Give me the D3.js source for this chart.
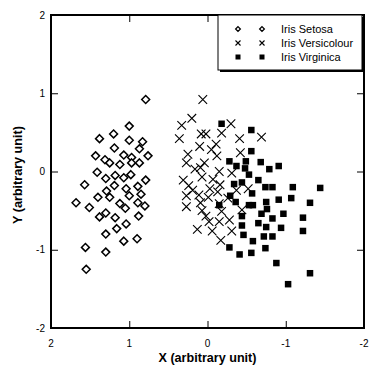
<!DOCTYPE html>
<html>
<head>
<meta charset="utf-8">
<script src="https://cdn.jsdelivr.net/npm/d3@7"></script>
<style>
  body { margin: 0; background: #fff; }
  svg { display: block; font-family: "Liberation Sans", Arial, sans-serif; }
</style>
</head>
<body>
<div id="chart-container"></div>
<script>
// Data (x, y in arbitrary units)
const setosa = [
  [0.79, 0.92], [1.00, 0.58], [1.20, 0.48], [1.38, 0.42], [1.00, 0.40],
  [0.83, 0.38], [1.19, 0.30], [0.87, 0.29], [1.43, 0.20], [1.31, 0.15],
  [1.25, 0.11], [1.07, 0.21], [0.97, 0.18], [0.76, 0.20], [1.12, 0.09],
  [0.97, 0.11], [0.87, 0.11], [1.41, -0.01], [1.30, -0.09], [1.18, -0.05],
  [0.98, -0.04], [1.57, -0.17], [1.07, -0.08], [0.79, -0.11], [1.19, -0.18],
  [0.89, -0.19], [1.29, -0.25], [1.04, -0.22], [1.25, -0.33], [1.40, -0.33],
  [1.00, -0.31], [0.85, -0.29], [1.68, -0.40], [1.51, -0.46], [1.12, -0.41],
  [0.89, -0.40], [0.80, -0.44], [1.05, -0.47], [1.30, -0.53], [1.38, -0.58],
  [1.18, -0.59], [0.88, -0.57], [1.04, -0.67], [1.16, -0.73], [1.30, -0.80],
  [1.07, -0.89], [0.90, -0.86], [1.56, -0.97], [1.30, -1.03], [1.55, -1.25]
];

const versicolour = [
  [0.06, 0.92], [0.20, 0.68], [0.33, 0.59], [-0.30, 0.61], [0.36, 0.42],
  [0.08, 0.48], [0.02, 0.48], [-0.18, 0.49], [-0.41, 0.42], [-0.69, 0.44],
  [0.10, 0.32], [-0.11, 0.35], [-0.05, 0.28], [0.25, 0.22], [-0.12, 0.20],
  [-0.42, 0.24], [0.27, 0.11], [0.04, 0.11], [0.09, 0.05], [0.16, 0.03],
  [-0.15, 0.00], [-0.31, -0.02], [0.31, -0.11], [0.07, -0.07], [-0.07, -0.10],
  [0.24, -0.18], [-0.16, -0.17], [0.19, -0.24], [-0.03, -0.22], [-0.37, -0.24],
  [-0.52, -0.22], [0.27, -0.31], [0.11, -0.30], [-0.13, -0.26], [-0.01, -0.33],
  [-0.26, -0.34], [0.27, -0.45], [0.09, -0.40], [-0.15, -0.41], [-0.18, -0.51],
  [-0.44, -0.49], [0.02, -0.57], [-0.02, -0.64], [-0.15, -0.64], [-0.28, -0.62],
  [0.13, -0.74], [-0.06, -0.76], [-0.31, -0.76], [-0.17, -0.88], [0.07, -0.50]
];

const virginica = [
  [-0.18, 0.61], [-0.56, 0.53], [-0.56, 0.26], [-0.28, 0.13], [-0.37, 0.07],
  [-0.49, 0.13], [-0.68, 0.12], [-0.91, 0.07], [-0.79, 0.03], [-0.48, 0.04],
  [-0.53, -0.04], [-0.65, -0.11], [-0.34, -0.16], [-0.44, -0.14], [-0.74, -0.20],
  [-0.83, -0.20], [-1.09, -0.20], [-1.44, -0.21], [-0.57, -0.28], [-0.29, -0.31],
  [-0.91, -0.36], [-1.07, -0.34], [-0.75, -0.39], [-0.36, -0.39], [-0.15, -0.43],
  [-0.53, -0.43], [-0.58, -0.43], [-1.31, -0.40], [-0.76, -0.48], [-0.44, -0.57],
  [-0.69, -0.54], [-0.97, -0.54], [-0.83, -0.60], [-1.22, -0.59], [-0.44, -0.69],
  [-0.65, -0.66], [-0.75, -0.71], [-0.94, -0.72], [-1.22, -0.76], [-0.46, -0.81],
  [-0.72, -0.83], [-0.83, -0.83], [-0.58, -0.89], [-0.28, -0.97], [-0.74, -0.98],
  [-0.56, -1.04], [-0.41, -1.06], [-0.88, -1.17], [-1.31, -1.30], [-1.03, -1.44]
];

const seriesNames = ["Iris Setosa", "Iris Versicolour", "Iris Virginica"];
const tickValues = [2, 1, 0, -1, -2];

// Layout
const W = 369, H = 367;
const margin = { top: 15, right: 5, bottom: 39, left: 51 };
const width = W - margin.left - margin.right;
const height = H - margin.top - margin.bottom;

const svg = d3.select("#chart-container")
  .append("svg")
  .attr("width", W)
  .attr("height", H);

const g = svg.append("g")
  .attr("transform", `translate(${margin.left},${margin.top})`);

// Reversed x axis: 2 on the left, -2 on the right
const xScale = d3.scaleLinear().domain([2, -2]).range([0, width]);
const yScale = d3.scaleLinear().domain([-2, 2]).range([height, 0]);

// Axes: inward ticks on all four sides, labels on bottom and left
const inner = [1, 0, -1];

const xBottom = g.append("g")
  .attr("transform", `translate(0,${height})`)
  .call(d3.axisBottom(xScale).tickValues(inner).tickSize(-7).tickFormat(""));
const xTop = g.append("g")
  .call(d3.axisTop(xScale).tickValues(inner).tickSize(-7).tickFormat(""));
const yLeft = g.append("g")
  .call(d3.axisLeft(yScale).tickValues(inner).tickSize(-7).tickFormat(""));
const yRight = g.append("g")
  .attr("transform", `translate(${width},0)`)
  .call(d3.axisRight(yScale).tickValues(inner).tickSize(-7).tickFormat(""));

[xBottom, xTop, yLeft, yRight].forEach(a => {
  a.select(".domain").remove();
  a.selectAll(".tick line").attr("stroke", "#000").attr("stroke-width", 1);
});

// Tick labels
g.selectAll(".xlab")
  .data(tickValues)
  .join("text")
  .attr("x", d => xScale(d))
  .attr("y", height + 19)
  .attr("text-anchor", "middle")
  .attr("font-size", 10)
  .text(d => d);

g.selectAll(".ylab")
  .data(tickValues)
  .join("text")
  .attr("x", -6)
  .attr("y", d => yScale(d) + 3.5)
  .attr("text-anchor", "end")
  .attr("font-size", 10)
  .text(d => d);

// Frame
g.append("rect")
  .attr("x", 0)
  .attr("y", 0)
  .attr("width", width)
  .attr("height", height)
  .attr("fill", "none")
  .attr("stroke", "#000")
  .attr("stroke-width", 2);

// Marker shapes
const diamond = d3.symbol().type(d3.symbolDiamond2);

function drawSetosa(sel, size, sw) {
  sel.append("path")
    .attr("d", diamond.size(size)())
    .attr("fill", "#fff")
    .attr("stroke", "#000")
    .attr("stroke-width", sw);
}
function drawCross(sel, r, sw) {
  sel.append("path")
    .attr("d", `M${-r},${-r}L${r},${r}M${-r},${r}L${r},${-r}`)
    .attr("stroke", "#000")
    .attr("stroke-width", sw)
    .attr("fill", "none");
}
function drawSquare(sel, s) {
  sel.append("rect")
    .attr("x", -s / 2)
    .attr("y", -s / 2)
    .attr("width", s)
    .attr("height", s)
    .attr("fill", "#000");
}

const pts = g.append("g");

pts.selectAll(".setosa")
  .data(setosa)
  .join("g")
  .attr("transform", d => `translate(${xScale(d[0])},${yScale(d[1])})`)
  .each(function() { drawSetosa(d3.select(this), 40, 1.5); });

pts.selectAll(".versi")
  .data(versicolour)
  .join("g")
  .attr("transform", d => `translate(${xScale(d[0])},${yScale(d[1])})`)
  .each(function() { drawCross(d3.select(this), 4.3, 1.1); });

pts.selectAll(".virg")
  .data(virginica)
  .join("g")
  .attr("transform", d => `translate(${xScale(d[0])},${yScale(d[1])})`)
  .each(function() { drawSquare(d3.select(this), 6.5); });

// Legend box with shadow edges on right and bottom
const lg = svg.append("g");
const lx = 218, ly = 15, lw = 144, lh = 55;
lg.append("rect")
  .attr("x", lx + 2).attr("y", ly + 2)
  .attr("width", lw).attr("height", lh)
  .attr("fill", "#000");
lg.append("rect")
  .attr("x", lx).attr("y", ly)
  .attr("width", lw).attr("height", lh)
  .attr("fill", "#fff")
  .attr("stroke", "#000")
  .attr("stroke-width", 1);

const rowY = [29, 43, 57];
const symX = [238, 262];

seriesNames.forEach((name, i) => {
  symX.forEach(sx => {
    const s = lg.append("g").attr("transform", `translate(${sx},${rowY[i]})`);
    if (i === 0) drawSetosa(s, 14, 1.3);
    else if (i === 1) drawCross(s, 2.5, 1.1);
    else drawSquare(s, 5);
  });
  lg.append("text")
    .attr("x", 281)
    .attr("y", rowY[i] + 4)
    .attr("font-size", 11)
    .text(name);
});

// Axis titles
svg.append("text")
  .attr("x", margin.left + width / 2)
  .attr("y", 362)
  .attr("text-anchor", "middle")
  .attr("font-size", 12.6)
  .attr("font-weight", "bold")
  .text("X (arbitrary unit)");

svg.append("text")
  .attr("transform", `translate(22,${175}) rotate(-90)`)
  .attr("text-anchor", "middle")
  .attr("font-size", 12.6)
  .attr("font-weight", "bold")
  .text("Y (arbitrary unit)");
</script>
</body>
</html>
